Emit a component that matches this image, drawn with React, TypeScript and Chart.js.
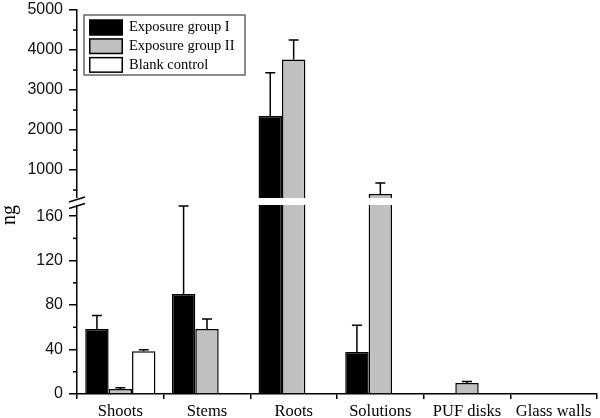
import React, { useEffect, useRef } from "react";
import { Chart, registerables, LinearScale } from "chart.js";

Chart.register(...registerables);

const categories = ["Shoots", "Stems", "Roots", "Solutions", "PUF disks", "Glass walls"];
const seriesLabels = ["Exposure group I", "Exposure group II", "Blank control"];
const group1 = [58.5, 90, 2350, 37.8, null, null];
const group1Err = [12, 79, 1080, 24, null, null];
const group2 = [4.5, 58.5, 3760, 400, 10, null];
const group2Err = [1.2, 9, 490, 275, 1.3, null];
const blank = [38.5, null, null, null, null, null];
const blankErr = [1.2, null, null, null, null, null];
const seriesColors = ["#000000", "#c0c0c0", "#ffffff"];

const yTicks = [0, 40, 80, 120, 160, 1000, 2000, 3000, 4000, 5000];
const yMinorTicks = [20, 60, 100, 140, 500, 1500, 2500, 3500, 4500];
const LOW_MAX = 170;
const HIGH_MIN = 300;
const HIGH_MAX = 5000;
const LOW_FRAC = 189 / 384;
const GAP_FRAC = 7 / 384;

class BrokenLinearScale extends (LinearScale as any) {
  static id = "brokenLinear";
  static defaults = {};
  buildTicks() {
    this.min = 0;
    this.max = HIGH_MAX;
    return yTicks.map((v) => ({ value: v }));
  }
  getPixelForValue(value: any) {
    if (value === null || value === undefined || isNaN(value)) return NaN;
    const h = this.bottom - this.top;
    const lowH = h * LOW_FRAC;
    const gapH = h * GAP_FRAC;
    const upH = h - lowH - gapH;
    if (value <= LOW_MAX) return this.bottom - (value / LOW_MAX) * lowH;
    if (value >= HIGH_MIN) return this.top + ((HIGH_MAX - value) / (HIGH_MAX - HIGH_MIN)) * upH;
    return this.bottom - lowH - ((value - LOW_MAX) / (HIGH_MIN - LOW_MAX)) * gapH;
  }
  getValueForPixel(pixel: number) {
    const h = this.bottom - this.top;
    const lowH = h * LOW_FRAC;
    const gapH = h * GAP_FRAC;
    const upH = h - lowH - gapH;
    const fromBottom = this.bottom - pixel;
    if (fromBottom <= lowH) return (fromBottom / lowH) * LOW_MAX;
    if (fromBottom >= lowH + gapH) return HIGH_MAX - ((pixel - this.top) / upH) * (HIGH_MAX - HIGH_MIN);
    return LOW_MAX + ((fromBottom - lowH) / gapH) * (HIGH_MIN - LOW_MAX);
  }
}
Chart.register(BrokenLinearScale as any);

const errors = [group1Err, group2Err, blankErr];

const decorPlugin = {
  id: "decor",
  afterDatasetsDraw(chart: any) {
    const ctx = chart.ctx;
    const y = chart.scales.y;
    const area = chart.chartArea;
    ctx.save();
    const pLow = y.getPixelForValue(LOW_MAX);
    const pHigh = y.getPixelForValue(HIGH_MIN);
    ctx.fillStyle = "#ffffff";
    ctx.fillRect(area.left - 2, pHigh, area.right - area.left + 2, pLow - pHigh);
    ctx.strokeStyle = "#000";
    ctx.lineWidth = 1.5;
    chart.data.datasets.forEach((ds: any, i: number) => {
      const meta = chart.getDatasetMeta(i);
      meta.data.forEach((bar: any, j: number) => {
        const v = ds.data[j];
        const e = errors[i][j];
        if (v === null || e === null || e === undefined) return;
        const top = y.getPixelForValue(v + e);
        ctx.beginPath();
        ctx.moveTo(bar.x, bar.y);
        ctx.lineTo(bar.x, top);
        ctx.moveTo(bar.x - 5, top);
        ctx.lineTo(bar.x + 5, top);
        ctx.stroke();
      });
    });
    yMinorTicks.forEach((v) => {
      const p = y.getPixelForValue(v);
      ctx.beginPath();
      ctx.moveTo(area.left - 4, p);
      ctx.lineTo(area.left, p);
      ctx.stroke();
    });
    const mid = (pLow + pHigh) / 2;
    ctx.beginPath();
    ctx.moveTo(area.left - 8, mid + 0.5);
    ctx.lineTo(area.left + 8, mid - 4.5);
    ctx.moveTo(area.left - 8, mid + 7);
    ctx.lineTo(area.left + 8, mid + 2);
    ctx.stroke();
    ctx.restore();
  },
  afterDraw(chart: any) {
    const ctx = chart.ctx;
    ctx.save();
    const bx = 84, by = 15, bw = 161, bh = 60;
    ctx.strokeStyle = "#666";
    ctx.lineWidth = 1.5;
    ctx.strokeRect(bx, by, bw, bh);
    ctx.font = '14.5px "Liberation Serif", "Times New Roman", serif';
    ctx.textBaseline = "middle";
    ctx.textAlign = "left";
    seriesLabels.forEach((label, i) => {
      const sy = 19.5 + i * 18.7;
      ctx.fillStyle = seriesColors[i];
      ctx.fillRect(89, sy, 34, 16);
      ctx.strokeStyle = "#000";
      ctx.lineWidth = 1.5;
      ctx.strokeRect(89.75, sy + 0.75, 32.5, 14.5);
      ctx.fillStyle = "#000";
      ctx.fillText(label, 129, sy + 8);
    });
    ctx.translate(10, 215);
    ctx.rotate(-Math.PI / 2);
    ctx.textAlign = "center";
    ctx.textBaseline = "middle";
    ctx.font = '20px "Liberation Serif", "Times New Roman", serif';
    ctx.fillStyle = "#000";
    ctx.fillText("ng", 0, 0);
    ctx.restore();
  },
};

export default function App() {
  const ref = useRef<HTMLCanvasElement>(null);
  useEffect(() => {
    document.body.style.margin = "0";
    const datasets = [group1, group2, blank].map((d, i) => ({
      label: seriesLabels[i],
      data: d,
      backgroundColor: seriesColors[i],
      borderColor: "#000",
      borderWidth: 1.5,
      borderSkipped: "start" as const,
      categoryPercentage: 0.81,
      barPercentage: 1.0,
    }));
    const chart = new Chart(ref.current!, {
      type: "bar",
      data: { labels: categories, datasets },
      options: {
        responsive: false,
        animation: false,
        events: [],
        layout: { padding: { top: 10, right: 3, left: 0, bottom: 0 } },
        plugins: { legend: { display: false }, tooltip: { enabled: false } },
        scales: {
          x: {
            type: "category",
            grid: { display: true, drawOnChartArea: false, offset: true, tickLength: 5, color: "#000", lineWidth: 1.5 },
            border: { color: "#000", width: 1.5 },
            ticks: {
              color: "#000",
              padding: 3,
              font: { family: '"Liberation Serif", "Times New Roman", serif', size: 16.5 },
            },
            afterFit: (s: any) => { s.height = 24; s.paddingLeft = 0; s.paddingRight = 0; },
          },
          y: {
            type: "brokenLinear" as any,
            min: 0,
            max: HIGH_MAX,
            grid: { display: true, drawOnChartArea: false, tickLength: 8, color: "#000", lineWidth: 1.5 },
            border: { color: "#000", width: 1.5 },
            ticks: {
              color: "#111",
              padding: 6,
              autoSkip: false,
              font: { family: '"Liberation Sans", Arial, sans-serif', size: 16 },
              callback: (v: any) => String(v),
            },
            afterFit: (s: any) => { s.width = 77; s.paddingTop = 0; s.paddingBottom = 0; },
          } as any,
        },
      },
      plugins: [decorPlugin],
    });
    return () => chart.destroy();
  }, []);
  return (
    <div style={{ width: 600, height: 418 }}>
      <canvas ref={ref} width={600} height={418} style={{ display: "block" }} />
    </div>
  );
}
